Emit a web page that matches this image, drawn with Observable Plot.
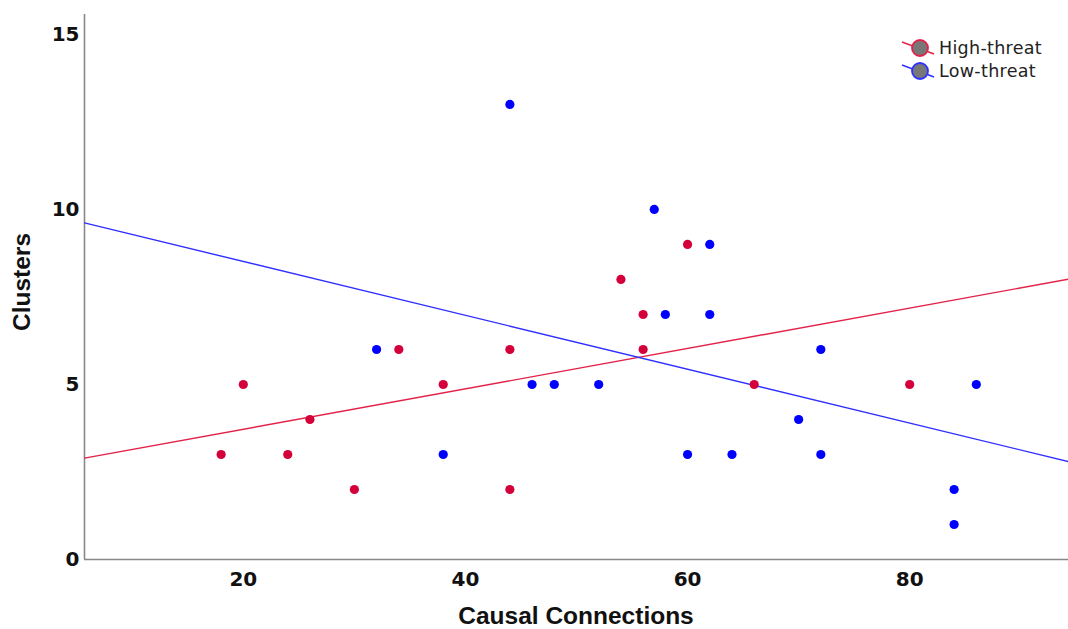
<!DOCTYPE html>
<html>
<head>
<meta charset="utf-8">
<script src="https://cdn.jsdelivr.net/npm/d3@7"></script>
<script src="https://cdn.jsdelivr.net/npm/@observablehq/plot@0.6"></script>
<style>
  html, body { margin: 0; padding: 0; background: #fff; }
  #wrap { position: relative; width: 1068px; height: 629px; }
  #legend { position: absolute; left: 900px; top: 36px; font-family: "DejaVu Sans", sans-serif; font-size: 17.5px; letter-spacing: 0.3px; color: #222; }
  #legend .row { display: flex; align-items: center; height: 23px; }
  #legend svg { margin-right: 3px; }
</style>
</head>
<body>
<div id="wrap"><div id="chart"></div><div id="legend"></div></div>
<script>
// High-threat group
const highX = [18, 20, 24, 26, 30, 34, 38, 44, 44, 54, 56, 56, 60, 66, 80];
const highY = [3, 5, 3, 4, 2, 6, 5, 6, 2, 8, 7, 6, 9, 5, 5];
// Low-threat group
const lowX = [32, 38, 44, 46, 48, 52, 57, 58, 62, 62, 60, 64, 70, 72, 72, 84, 84, 86];
const lowY = [6, 3, 13, 5, 5, 5, 10, 7, 9, 7, 3, 3, 4, 6, 3, 2, 1, 5];

const groups = ["High-threat", "Low-threat"];
const pointColors = ["#d4003a", "#0000ff"];
const lineColors = ["#e3224a", "#3030ff"];
const xTicks = [20, 40, 60, 80];
const yTicks = [0, 5, 10, 15];
const xDomain = [5.7, 94.3];
const yDomain = [0, 15.57];

const points = [
  ...highX.map((x, i) => ({x, y: highY[i], g: groups[0]})),
  ...lowX.map((x, i) => ({x, y: lowY[i], g: groups[1]}))
];

function fit(xs, ys) {
  const mx = d3.mean(xs), my = d3.mean(ys);
  const sxy = d3.sum(xs, (x, i) => (x - mx) * (ys[i] - my));
  const sxx = d3.sum(xs, x => (x - mx) ** 2);
  const b = sxy / sxx, a = my - b * mx;
  return xDomain.map(x => ({x, y: a + b * x}));
}
const fitLines = [
  ...fit(highX, highY).map(d => ({...d, g: groups[0]})),
  ...fit(lowX, lowY).map(d => ({...d, g: groups[1]}))
];

const chart = Plot.plot({
  width: 1068,
  height: 629,
  marginLeft: 84,
  marginTop: 14,
  marginBottom: 70,
  marginRight: 0,
  style: { fontFamily: "DejaVu Sans, sans-serif", background: "#fff" },
  x: { domain: xDomain, ticks: xTicks },
  y: { domain: yDomain, ticks: yTicks },
  color: { domain: groups, range: pointColors },
  marks: [
    Plot.axisX({ ticks: xTicks, tickSize: 0, tickPadding: 12, fontSize: 20, fontWeight: "bold", fill: "#111", label: null }),
    Plot.axisY({ ticks: yTicks, tickSize: 0, tickPadding: 5, fontSize: 20, fontWeight: "bold", fill: "#111", label: null }),
    Plot.ruleY([0], { stroke: "#888", strokeWidth: 1.6 }),
    Plot.ruleX([xDomain[0]], { stroke: "#888", strokeWidth: 1.6 }),
    Plot.line(fitLines, { x: "x", y: "y", z: "g", stroke: d => lineColors[groups.indexOf(d.g)], strokeWidth: 1.4, clip: true }),
    Plot.dot(points, { x: "x", y: "y", fill: "g", r: 4.6, stroke: null })
  ]
});
document.getElementById("chart").appendChild(chart);

// Axis titles
const svg = d3.select(chart);
svg.append("text").attr("x", 576).attr("y", 624).attr("text-anchor", "middle")
  .attr("font-family", "Liberation Sans, Arial, sans-serif").attr("font-weight", "bold")
  .attr("font-size", 24.5).attr("fill", "#111").text("Causal Connections");
svg.append("text").attr("transform", "translate(30,282) rotate(-90)").attr("text-anchor", "middle")
  .attr("font-family", "Liberation Sans, Arial, sans-serif").attr("font-weight", "bold")
  .attr("font-size", 24.5).attr("fill", "#111").text("Clusters");

// Legend
const legend = d3.select("#legend");
groups.forEach((g, i) => {
  const row = legend.append("div").attr("class", "row");
  const s = row.append("svg").attr("width", 36).attr("height", 22);
  s.append("line").attr("x1", 2).attr("y1", 5).attr("x2", 34).attr("y2", 17)
    .attr("stroke", lineColors[i]).attr("stroke-width", 1.4);
  s.append("circle").attr("cx", 20).attr("cy", 11).attr("r", 8)
    .attr("fill", "#777").attr("stroke", lineColors[i]).attr("stroke-width", 1.8);
  row.append("span").text(g);
});
</script>
</body>
</html>
